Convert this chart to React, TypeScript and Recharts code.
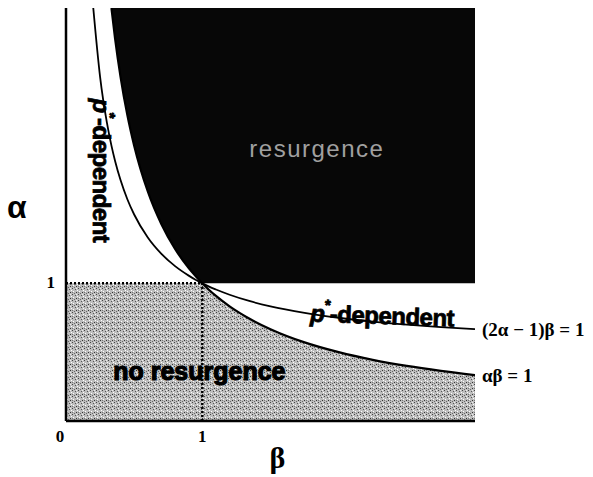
import {
  ComposedChart, Area, Line, XAxis, YAxis, ReferenceLine, ReferenceDot,
} from 'recharts'

const betaVals = [0, 0.2, 0.25, 0.3, 0.3333, 0.36, 0.4, 0.45, 0.5, 0.6, 0.7, 0.8, 0.9, 0.95, 1, 1.05, 1.1, 1.2, 1.35, 1.5, 1.75, 2, 2.25, 2.5, 2.75, 3]
// alpha * beta = 1
const hyperbola = [null, null, null, null, 3.0, 2.778, 2.5, 2.222, 2.0, 1.667, 1.429, 1.25, 1.111, 1.053, 1, 0.952, 0.909, 0.833, 0.741, 0.667, 0.571, 0.5, 0.444, 0.4, 0.364, 0.333]
// (2 alpha - 1) beta = 1
const pDependentCurve = [null, 3.0, 2.5, 2.167, 2.0, 1.889, 1.75, 1.611, 1.5, 1.333, 1.214, 1.125, 1.056, 1.026, 1, 0.976, 0.955, 0.917, 0.870, 0.833, 0.786, 0.75, 0.722, 0.7, 0.682, 0.667]
const resurgenceFloor = [null, null, null, null, 3.0, 2.778, 2.5, 2.222, 2.0, 1.667, 1.429, 1.25, 1.111, 1.053, 1, 1, 1, 1, 1, 1, 1, 1, 1, 1, 1, 1]
const noResurgenceTop = [1, 1, 1, 1, 1, 1, 1, 1, 1, 1, 1, 1, 1, 1, 1, 0.952, 0.909, 0.833, 0.741, 0.667, 0.571, 0.5, 0.444, 0.4, 0.364, 0.333]
const alphaMax = 3

const xTicks = [0, 1]
const yTicks = [1]

const data = betaVals.map((b, i) => ({
  beta: b,
  inv: hyperbola[i],
  pdep: pDependentCurve[i],
  dark: resurgenceFloor[i] === null ? null : [resurgenceFloor[i], alphaMax],
  gray: noResurgenceTop[i],
}))

const serif = '"Liberation Serif", "Times New Roman", serif'
const sans = '"Liberation Sans", Arial, sans-serif'

function BetaTick({ x, y, payload }: any) {
  return (
    <text x={x + (payload.value === 0 ? -6 : 0)} y={y + 13} textAnchor="middle"
      fontFamily={serif} fontWeight="bold" fontSize={17} fill="#000">
      {payload.value}
    </text>
  )
}

function AlphaTick({ x, y, payload }: any) {
  return (
    <text x={x - 3} y={y + 5} textAnchor="end"
      fontFamily={serif} fontWeight="bold" fontSize={17} fill="#000">
      {payload.value}
    </text>
  )
}

function PDepLabel({ viewBox, rotate }: any) {
  const cx = viewBox.x
  const cy = viewBox.y
  return (
    <text x={cx} y={cy} textAnchor="middle" dominantBaseline="central"
      transform={`rotate(${rotate} ${cx} ${cy})`}
      fontFamily={sans} fontWeight="bold" fontSize={24} fill="#000"
      stroke="#000" strokeWidth={0.8} letterSpacing={-0.5}>
      <tspan fontStyle="italic">p</tspan>
      <tspan fontSize={15} dy={-9}>*</tspan>
      <tspan dy={9}>-dependent</tspan>
    </text>
  )
}

export default function App() {
  return (
    <div style={{ position: 'absolute', left: 0, top: 0, background: '#fff' }}>
      <ComposedChart width={593} height={477} data={data}
        margin={{ top: 8, right: 118, left: 0, bottom: 0 }}>
        <defs>
          <pattern id="stipple" width="6" height="6" patternUnits="userSpaceOnUse">
            <rect width="6" height="6" fill="#bdbdbd" />
            <rect x="0" y="0" width="1" height="1" fill="#444" />
            <rect x="3" y="1" width="1" height="1" fill="#555" />
            <rect x="1" y="3" width="1" height="1" fill="#fff" />
            <rect x="4" y="4" width="1" height="1" fill="#333" />
            <rect x="5" y="2" width="1" height="1" fill="#fff" />
            <rect x="2" y="5" width="1" height="1" fill="#666" />
            <rect x="4" y="0" width="1" height="1" fill="#eee" />
            <rect x="0" y="4" width="1" height="1" fill="#777" />
          </pattern>
        </defs>
        <XAxis dataKey="beta" type="number" domain={[0, 3]} ticks={xTicks}
          allowDataOverflow height={56} tickLine={false} tick={<BetaTick />}
          axisLine={{ stroke: '#000', strokeWidth: 2.5 }}
          label={{ value: 'β', position: 'insideBottom', offset: 9, dx: 7, fontFamily: serif, fontWeight: 'bold', fontSize: 30, fill: '#000' }} />
        <YAxis type="number" domain={[0, 3]} ticks={yTicks} allowDataOverflow
          width={66} tickLine={false} tick={<AlphaTick />}
          axisLine={{ stroke: '#000', strokeWidth: 2.5 }}
          label={{ value: 'α', position: 'insideLeft', offset: 7, dy: -8, fontFamily: sans, fontWeight: 'bold', fontSize: 32, fill: '#000' }} />
        <Area dataKey="gray" type="monotone" stroke="none" fill="url(#stipple)"
          fillOpacity={1} isAnimationActive={false} />
        <Area dataKey="dark" type="monotone" stroke="none" fill="#070707"
          fillOpacity={1} isAnimationActive={false} />
        <ReferenceLine segment={[{ x: 0, y: 1 }, { x: 1, y: 1 }]} stroke="#000"
          strokeWidth={2.5} strokeDasharray="2 2" />
        <ReferenceLine segment={[{ x: 1, y: 0 }, { x: 1, y: 1 }]} stroke="#000"
          strokeWidth={2.5} strokeDasharray="2 2" />
        <Line dataKey="inv" type="monotone" stroke="#000" strokeWidth={2.2}
          dot={false} isAnimationActive={false} />
        <Line dataKey="pdep" type="monotone" stroke="#000" strokeWidth={1.8}
          dot={false} isAnimationActive={false} />
        <ReferenceDot x={1.84} y={1.98} r={0} ifOverflow="visible"
          label={{ value: 'resurgence', position: 'center', fontFamily: sans, fontSize: 24, fill: '#a0a0a0', letterSpacing: 1.5 }} />
        <ReferenceDot x={0.978} y={0.36} r={0} ifOverflow="visible"
          label={{ value: 'no resurgence', position: 'center', fontFamily: sans, fontWeight: 'bold', fontSize: 25, fill: '#000', stroke: '#000', strokeWidth: 1.2 }} />
        <ReferenceDot x={0.265} y={1.82} r={0} ifOverflow="visible"
          label={<PDepLabel rotate={90} />} />
        <ReferenceDot x={2.32} y={0.77} r={0} ifOverflow="visible"
          label={<PDepLabel rotate={2} />} />
        <ReferenceDot x={3} y={0.667} r={0} ifOverflow="visible"
          label={{ value: '(2α − 1)β = 1', position: 'right', offset: 7, fontFamily: serif, fontWeight: 'bold', fontSize: 19, fill: '#000' }} />
        <ReferenceDot x={3} y={0.333} r={0} ifOverflow="visible"
          label={{ value: 'αβ = 1', position: 'right', offset: 7, fontFamily: serif, fontWeight: 'bold', fontSize: 19, fill: '#000' }} />
      </ComposedChart>
    </div>
  )
}
